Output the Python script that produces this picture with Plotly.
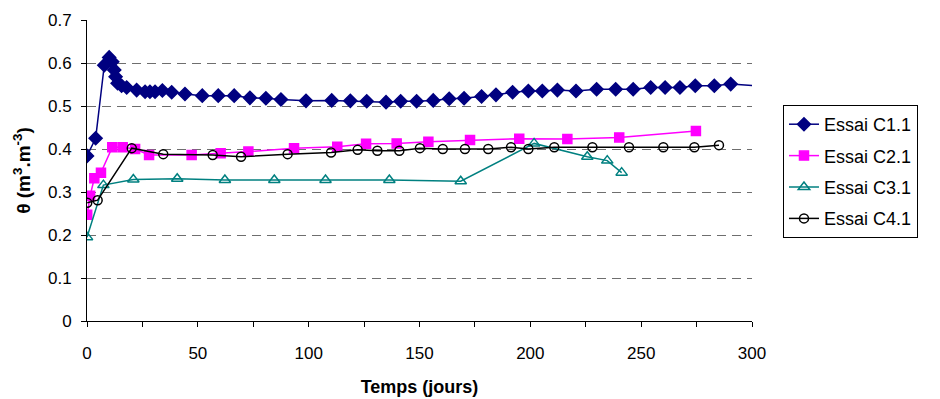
import plotly.graph_objects as go

# ---- data ----
c1_t = [0, 3.9, 7.8, 10, 11.4, 12.3, 12.9, 13.8, 15.6, 17.9, 22.4, 26.2, 28.4, 30.7, 34, 38.2, 44.2,
        52.0, 59.2, 66.4, 73.5, 80.7, 87.5, 98.8, 110.4, 118.8, 126.2, 134.9, 141.5, 148.7, 156.2,
        163.4, 170.1, 178.0, 184.5, 192.0, 199.1, 205.4, 212.2, 220.6, 229.9, 238.5, 246.4, 254.3,
        260.8, 267.5, 274.4, 283.0, 290.4, 305]
c1_y = [0.384, 0.425, 0.595, 0.613, 0.603, 0.584, 0.568, 0.553, 0.547, 0.543, 0.537, 0.533, 0.533,
        0.533, 0.536, 0.532, 0.528, 0.524, 0.524, 0.524, 0.519, 0.518, 0.515, 0.512, 0.513, 0.512,
        0.511, 0.509, 0.511, 0.511, 0.513, 0.517, 0.518, 0.522, 0.526, 0.532, 0.535, 0.535, 0.537,
        0.535, 0.539, 0.539, 0.539, 0.543, 0.543, 0.543, 0.547, 0.547, 0.551, 0.546]

c2_t = [0.1, 1.4, 3.3, 6.3, 11.4, 16.1, 21.7, 28.0, 47.2, 60.3, 72.8, 93.4, 112.9, 125.9, 139.7,
        154.0, 172.8, 195.0, 216.7, 240.1, 274.7]
c2_y = [0.247, 0.291, 0.332, 0.345, 0.404, 0.404, 0.400, 0.386, 0.386, 0.390, 0.394, 0.402, 0.405,
        0.412, 0.413, 0.417, 0.421, 0.424, 0.423, 0.427, 0.442]

c3_t = [0, 7.4, 20.9, 40.7, 62.2, 84.5, 107.6, 136.4, 168.6, 201.7, 225.7, 234.7, 241.2]
c3_y = [0.195, 0.316, 0.329, 0.331, 0.328, 0.328, 0.328, 0.328, 0.325, 0.413, 0.382, 0.373, 0.345]

c4_t = [0.1, 4.8, 20.2, 34.4, 56.7, 69.5, 90.5, 110.1, 122.1, 131.0, 140.9, 150.2, 160.5, 170.5,
        181.0, 191.3, 199.1, 210.8, 228.0, 244.5, 260.0, 274.0, 285.1]
c4_y = [0.275, 0.281, 0.402, 0.388, 0.386, 0.382, 0.388, 0.392, 0.398, 0.396, 0.396, 0.402, 0.400,
        0.400, 0.400, 0.404, 0.400, 0.404, 0.404, 0.404, 0.404, 0.404, 0.409]

series_names = ["Essai C1.1", "Essai C2.1", "Essai C3.1", "Essai C4.1"]
x_ticks = [0, 50, 100, 150, 200, 250, 300]
y_ticks = [0, 0.1, 0.2, 0.3, 0.4, 0.5, 0.6, 0.7]
y_tick_labels = ["0", "0.1", "0.2", "0.3", "0.4", "0.5", "0.6", "0.7"]

FONT = "Liberation Sans, Arial, sans-serif"

fig = go.Figure()
styles = [
    dict(color="#000080", symbol="diamond", size=10),
    dict(color="#FF00FF", symbol="square", size=9),
    dict(color="#008080", symbol="triangle-up-open", size=10),
    dict(color="#000000", symbol="circle-open", size=9),
]
data = [(c1_t, c1_y), (c2_t, c2_y), (c3_t, c3_y), (c4_t, c4_y)]
for i, ((t, y), st, name) in enumerate(zip(data, styles, series_names)):
    fig.add_trace(go.Scatter(
        x=t, y=y, name=name, mode="lines+markers", legendgroup=f"g{i}",
        line=dict(color=st["color"], width=1.5),
        marker=dict(symbol=st["symbol"], size=st["size"], color=st["color"],
                    line=dict(color=st["color"], width=1.5)),
    ))

fig.update_layout(
    width=940, height=399,
    margin=dict(l=79, r=196, t=12, b=86, autoexpand=False),
    paper_bgcolor="white", plot_bgcolor="white",
    font=dict(family=FONT, size=17, color="black"),
    legend=dict(
        x=1.0466, y=0.7176, xanchor="left", yanchor="top",
        bgcolor="white", bordercolor="black", borderwidth=1,
        font=dict(size=18), tracegroupgap=5,
    ),
    showlegend=True,
)
fig.update_xaxes(
    range=[0, 300], tickvals=x_ticks, ticks="outside", ticklen=5, tickcolor="black",
    showline=True, linecolor="black", linewidth=1, showgrid=False, zeroline=False,
    ticklabelstandoff=12, tickfont=dict(size=17),
    minor=dict(dtick=25, tick0=0, ticks="outside", ticklen=5, tickcolor="black", showgrid=False),
    title=dict(text="<b>Temps (jours)</b>", standoff=17, font=dict(size=18)),
)
fig.update_yaxes(
    range=[0, 0.7], tickvals=y_ticks, ticktext=y_tick_labels, ticks="outside", ticklen=5,
    tickcolor="black", showline=True, linecolor="black", linewidth=1,
    showgrid=True, gridcolor="#6e6e6e", gridwidth=1, griddash="9px,6px", zeroline=False,
    ticklabelstandoff=6, tickfont=dict(size=17),
    title=dict(text="<b>θ (m<sup>3</sup>.m<sup>-3</sup>)</b>", standoff=12, font=dict(size=19)),
)

fig.write_html("out.html")
